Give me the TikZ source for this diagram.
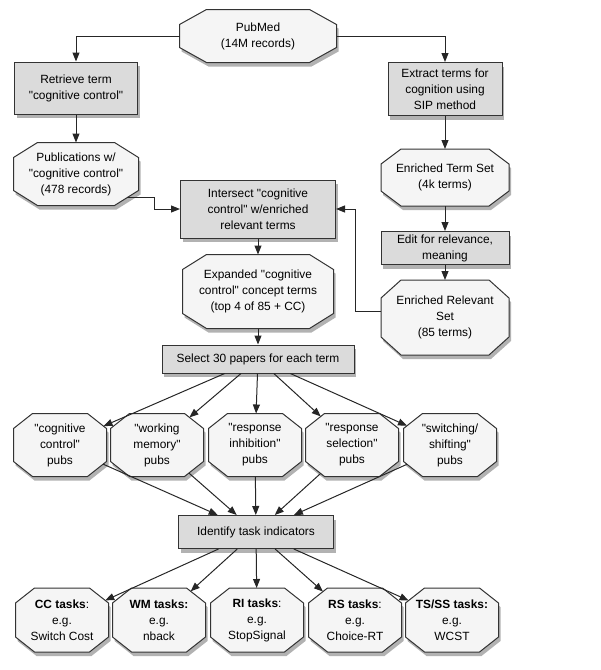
\documentclass[tikz,border=0pt]{standalone}
\usepackage{fontspec}
\setmainfont{Liberation Sans}[Ligatures=TeXOff]
\usetikzlibrary{arrows.meta,positioning,shadows,calc}

% octagon with its own cut sizes (in pt)
\makeatletter
\pgfkeys{/pgf/octa cut x/.initial=20, /pgf/octa cut y/.initial=15}
\pgfdeclareshape{octagon box}{
  \inheritsavedanchors[from=rectangle]
  \inheritanchor[from=rectangle]{center}
  \inheritanchor[from=rectangle]{north}
  \inheritanchor[from=rectangle]{south}
  \inheritanchor[from=rectangle]{east}
  \inheritanchor[from=rectangle]{west}
  \inheritanchor[from=rectangle]{mid}
  \inheritanchor[from=rectangle]{base}
  \savedmacro\octacutx{\edef\octacutx{\pgfkeysvalueof{/pgf/octa cut x}}}
  \savedmacro\octacuty{\edef\octacuty{\pgfkeysvalueof{/pgf/octa cut y}}}
  \backgroundpath{%
    \southwest \pgf@xa=\pgf@x \pgf@ya=\pgf@y
    \northeast \pgf@xb=\pgf@x \pgf@yb=\pgf@y
    \edef\oc@l{\the\pgf@xa}\edef\oc@r{\the\pgf@xb}%
    \edef\oc@b{\the\pgf@ya}\edef\oc@t{\the\pgf@yb}%
    \advance\pgf@xa by\octacutx pt \edef\oc@li{\the\pgf@xa}%
    \advance\pgf@xb by-\octacutx pt \edef\oc@ri{\the\pgf@xb}%
    \advance\pgf@ya by\octacuty pt \edef\oc@bi{\the\pgf@ya}%
    \advance\pgf@yb by-\octacuty pt \edef\oc@ti{\the\pgf@yb}%
    \pgfpathmoveto{\pgfqpoint{\oc@li}{\oc@t}}%
    \pgfpathlineto{\pgfqpoint{\oc@ri}{\oc@t}}%
    \pgfpathlineto{\pgfqpoint{\oc@r}{\oc@ti}}%
    \pgfpathlineto{\pgfqpoint{\oc@r}{\oc@bi}}%
    \pgfpathlineto{\pgfqpoint{\oc@ri}{\oc@b}}%
    \pgfpathlineto{\pgfqpoint{\oc@li}{\oc@b}}%
    \pgfpathlineto{\pgfqpoint{\oc@l}{\oc@bi}}%
    \pgfpathlineto{\pgfqpoint{\oc@l}{\oc@ti}}%
    \pgfpathclose
  }
  \anchorborder{%
    \pgf@xb=\pgf@x \pgf@yb=\pgf@y
    \southwest \pgf@xa=\pgf@x \pgf@ya=\pgf@y
    \northeast
    \advance\pgf@x by-\pgf@xa \advance\pgf@y by-\pgf@ya
    \pgf@xc=.5\pgf@x \pgf@yc=.5\pgf@y
    \advance\pgf@xa by\pgf@xc \advance\pgf@ya by\pgf@yc
    \edef\oc@cx{\the\pgf@xa}\edef\oc@cy{\the\pgf@ya}%
    \edef\oc@a{\strip@pt\pgf@xc}\edef\oc@b{\strip@pt\pgf@yc}%
    \edef\oc@dx{\strip@pt\pgf@xb}\edef\oc@dy{\strip@pt\pgf@yb}%
    \pgfmathsetmacro\oc@len{max(veclen(\oc@dx,\oc@dy),0.01)}%
    \pgfmathsetmacro\oc@ux{\oc@dx/\oc@len}%
    \pgfmathsetmacro\oc@uy{\oc@dy/\oc@len}%
    \pgfmathsetmacro\oc@ax{max(abs(\oc@ux),0.01)}%
    \pgfmathsetmacro\oc@ay{max(abs(\oc@uy),0.01)}%
    \pgfmathsetmacro\oc@k{\octacuty*\oc@a+\octacutx*\oc@b-\octacutx*\octacuty}%
    \pgfmathsetmacro\oc@t{min(\oc@a/\oc@ax,\oc@b/\oc@ay,\oc@k/(\octacuty*\oc@ax+\octacutx*\oc@ay))}%
    \pgfmathsetmacro\oc@px{\oc@t*\oc@ux}%
    \pgfmathsetmacro\oc@py{\oc@t*\oc@uy}%
    \pgf@x=\oc@px pt \advance\pgf@x by\oc@cx\relax
    \pgf@y=\oc@py pt \advance\pgf@y by\oc@cy\relax
  }
}
\makeatother

\begin{document}
\begin{tikzpicture}[
    x=1pt, y=-1pt,
    font=\fontsize{11.9}{16}\selectfont,
    every node/.style={align=center, inner sep=0pt},
    block/.style={rectangle, draw=black!80, line width=1pt, fill=gray!28,
        drop shadow={shadow xshift=2pt, shadow yshift=-4pt, opacity=.3, fill=black}},
    octa/.style={octagon box, outer sep=0pt, draw=black!80, line width=1pt, fill=gray!8,
        drop shadow={shadow xshift=2pt, shadow yshift=-4pt, opacity=.3, fill=black}},
    arrow/.style={line width=1pt, draw=black!85, -{Triangle[length=9pt,width=7pt]}}
]
    \useasboundingbox (0,0) rectangle (601,670);

    % top of the flow
    \node[octa, minimum width=157pt, minimum height=53pt, octa cut x=27] (pubmed) at (258,36) {PubMed\\(14M records)};
    \node[block, minimum width=123pt, minimum height=52pt] (retrieve) at (76,88) {Retrieve term\\"cognitive control"};
    \node[octa, minimum width=125pt, minimum height=63pt, octa cut x=24, below=28pt of retrieve] (pubcc) {Publications w/\\"cognitive control"\\(478 records)};
    \node[block, minimum width=114pt, minimum height=53pt] (extract) at (445,89) {Extract terms for\\cognition using\\SIP method};
    \node[octa, minimum width=128pt, minimum height=57pt, below=33pt of extract] (termset) {Enriched Term Set\\(4k terms)};
    \node[block, minimum width=128pt, minimum height=33pt, below=25pt of termset] (edit) {Edit for relevance,\\meaning};
    \node[octa, minimum width=128pt, minimum height=75pt, octa cut y=18, below=15pt of edit] (relset) {Enriched Relevant\\Set\\(85 terms)};

    % middle column
    \node[block, minimum width=155pt, minimum height=58pt] (intersect) at (258,209) {Intersect "cognitive\\control" w/enriched\\relevant terms};
    \node[octa, minimum width=151pt, minimum height=74pt, octa cut x=24, below=16pt of intersect] (expanded) {Expanded "cognitive\\control" concept terms\\(top 4 of 85 + CC)};
    \node[block, minimum width=192pt, minimum height=28pt, below=16pt of expanded] (select) {Select 30 papers for each term};

    % publication sets
    \foreach \name/\x/\txt in {pcc/60/{"cognitive\\control"\\pubs}, pwm/157/{"working\\memory"\\pubs},
        pri/255/{"response\\inhibition"\\pubs}, prs/352/{"response\\selection"\\pubs},
        pts/450/{"switching/\\shifting"\\pubs}}
        \node[octa, minimum width=93pt, minimum height=63pt, octa cut x=19] (\name) at (\x,445) {\txt};

    \node[block, minimum width=155pt, minimum height=33pt] (identify) at (256,532) {Identify task indicators};

    % task indicators
    \foreach \name/\x/\txt in {tcc/62/{\textbf{CC tasks}:\\e.g.\\Switch Cost}, twm/159/{\textbf{WM tasks:}\\e.g.\\nback},
        tri/257/{\textbf{RI tasks}:\\e.g.\\StopSignal}, trs/355/{\textbf{RS tasks}:\\e.g.\\Choice-RT},
        tts/452/{\textbf{TS/SS tasks:}\\e.g.\\WCST}}
        \node[octa, minimum width=93pt, minimum height=64pt, octa cut x=19] (\name) at (\x,620) {\txt};

    \draw[arrow] (pubmed.west) -| (retrieve.north);
    \draw[arrow] (pubmed.east) -| (extract.north);
    \draw[arrow] (retrieve) -- (pubcc);
    \draw[arrow] (pubcc.-25) -| ($(intersect.west)+(-26,0)$) -- (intersect.west);
    \draw[arrow] (extract) -- (termset);
    \draw[arrow] (termset) -- (edit);
    \draw[arrow] (edit) -- (relset);
    \draw[arrow] (relset.175) -| ($(intersect.east)+(19,0)$) -- (intersect.east);
    \draw[arrow] (intersect) -- (expanded);
    \draw[arrow] (expanded) -- (select);

    \foreach \p in {pcc,pwm,pri,prs,pts} {
        \draw[arrow] (select) -- (\p);
        \draw[arrow] (\p) -- (identify);
    }
    \foreach \t in {tcc,twm,tri,trs,tts}
        \draw[arrow] (identify) -- (\t);
\end{tikzpicture}
\end{document}
